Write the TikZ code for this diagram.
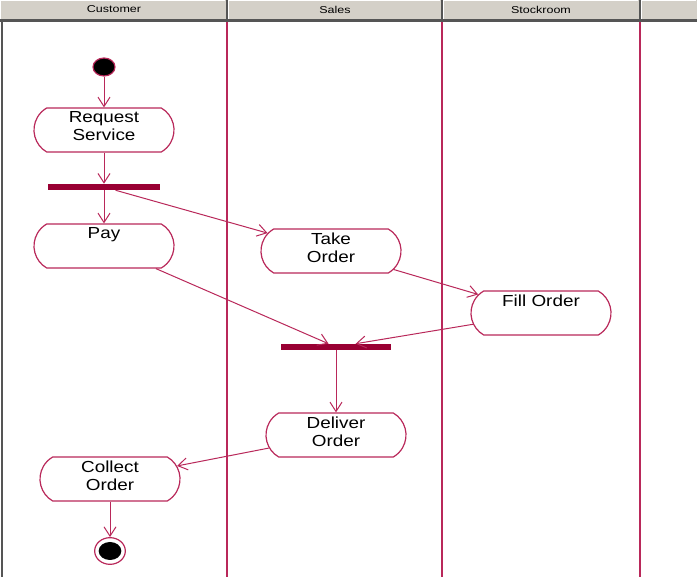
\documentclass[tikz,border=0pt]{standalone}
\usepackage{fontspec}
\setmainfont{Liberation Sans}
\newfontfamily\actfont[FakeStretch=1.18]{Liberation Sans}
\newfontfamily\hdrfont[FakeStretch=1.25]{Liberation Sans}
\usetikzlibrary{arrows.meta,shapes.misc,shapes.geometric}
\definecolor{lane}{RGB}{185,40,90}
\definecolor{barc}{RGB}{153,0,51}
\definecolor{hdr}{RGB}{212,208,200}
\definecolor{hdrdark}{RGB}{85,85,85}
\begin{document}
\begin{tikzpicture}[x=0.75pt,y=-0.75pt,
  act/.style={rounded rectangle, rounded rectangle arc length=120, draw=lane, line width=0.9pt, minimum width=105pt, minimum height=33pt, inner sep=0pt},
  lbl/.style={anchor=north, font=\actfont\fontsize{12}{13.5}\selectfont, align=center, inner sep=0pt, text=black},
  syncbar/.style={fill=barc, draw=none, minimum width=84pt, minimum height=4.5pt, inner sep=0pt, rectangle},
  flow/.style={draw=lane, line width=0.75pt, -{Straight Barb[length=7pt,width=9pt]}},
  hlbl/.style={font=\hdrfont\fontsize{7.5}{9}\selectfont, text=black, inner sep=0pt},
  laneline/.style={draw=lane, line width=1.1pt}
]
\useasboundingbox (0,0) rectangle (697,577);
\fill[white] (0,0) rectangle (697,577);
% header
\foreach \a/\b in {0/226,228/441,443/639,641/697}{
  \fill[hdr] (\a,0) rectangle (\b,19);
  \draw[white, line width=0.75pt] (\a+0.5,19) -- (\a+0.5,0.5) -- (\b-1,0.5);
}
\foreach \x in {227,442,640}{
  \draw[hdrdark, line width=1.5pt] (\x,0) -- (\x,20);
}
\draw[hdrdark, line width=2.2pt] (0,20.5) -- (697,20.5);
\draw[hdrdark, line width=1.5pt] (2,20) -- (2,577);
\node[hlbl] (h1) at (114,9.5) {Customer};
\node[hlbl] (h2) at (335,9.5) {Sales};
\node[hlbl] (h3) at (541,9.5) {Stockroom};
% lanes
\coordinate (l1t) at (227,22); \coordinate (l1b) at (227,577);
\coordinate (l2t) at (442,22); \coordinate (l2b) at (442,577);
\coordinate (l3t) at (640,22); \coordinate (l3b) at (640,577);
\draw[laneline] (l1t) -- (l1b);
\draw[laneline] (l2t) -- (l2b);
\draw[laneline] (l3t) -- (l3b);
% nodes
\node[ellipse, fill=black, draw=lane, line width=0.9pt, minimum width=16.5pt, minimum height=13.5pt, inner sep=0pt] (init) at (104,67) {};
\node[act] (rs) at (104,130) {};
\node[lbl] (rsl) at ([yshift=-3pt]rs.north) {Request\\Service};
\node[syncbar] (f1) at (104,187) {};
\node[act] (pay) at (104,246) {};
\node[lbl] (payl) at ([yshift=-3pt]pay.north) {Pay};
\node[act] (take) at (331,251) {};
\node[lbl] (takel) at ([yshift=-3pt]take.north) {Take\\Order};
\node[act] (fill) at (541,313) {};
\node[lbl] (filll) at ([yshift=-3pt]fill.north) {Fill Order};
\node[syncbar, minimum width=83pt] (j1) at (336,347) {};
\node[act] (del) at (336,435) {};
\node[lbl] (dell) at ([yshift=-3pt]del.north) {Deliver\\Order};
\node[act] (col) at (110,479) {};
\node[lbl] (coll) at ([yshift=-3pt]col.north) {Collect\\Order};
\node[ellipse, draw=lane, line width=0.9pt, minimum width=23pt, minimum height=20pt, inner sep=0pt] (fin) at (110,551) {};
\node[ellipse, fill=black, minimum width=17pt, minimum height=13.5pt, inner sep=0pt] (finc) at (fin.center) {};
% flows
\draw[flow] (init) -- (rs);
\draw[flow] (rs) -- (f1);
\draw[flow] (f1) -- (pay);
\draw[flow] (f1) -- (take);
\draw[flow] (pay) -- (j1);
\draw[flow] (take) -- (fill);
\draw[flow] (fill) -- (j1);
\draw[flow] (j1) -- (del);
\draw[flow] (del) -- (col);
\draw[flow] (col) -- (fin);
\end{tikzpicture}
\end{document}
